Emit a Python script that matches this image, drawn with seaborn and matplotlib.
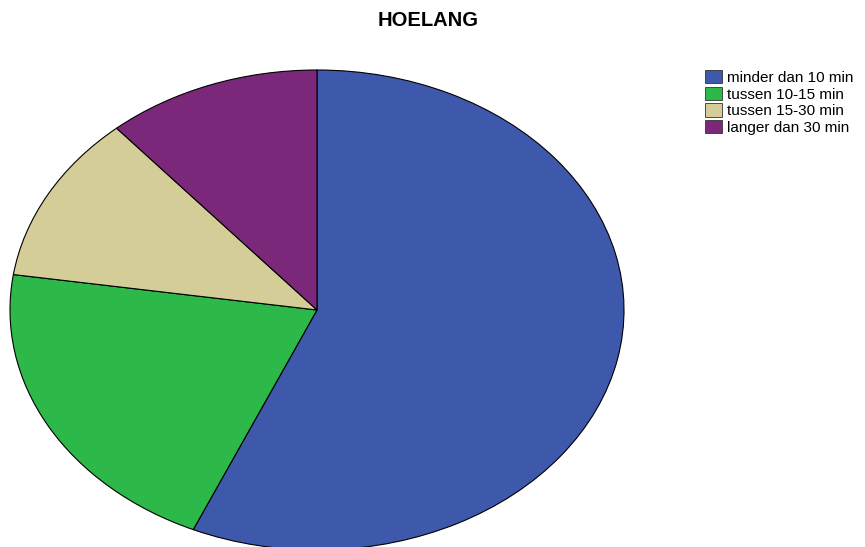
import matplotlib
matplotlib.use("Agg")
import matplotlib.pyplot as plt
import seaborn as sns
from matplotlib.patches import Patch

sns.set_style("white")
plt.rcParams["font.family"] = ["Liberation Sans", "DejaVu Sans"]

# Travel time categories and respondent counts
categories = ["minder dan 10 min", "tussen 10-15 min", "tussen 15-30 min", "langer dan 30 min"]
counts = [30, 11, 6, 6]
colors = ["#3E58AC", "#2DB84A", "#D4CD98", "#7B287B"]

fig = plt.figure(figsize=(8.65, 5.47), dpi=100)
W, H = 865, 547
# Stretched axes make the pie an ellipse
ax = fig.add_axes([10 / W, (H - 550) / H, 614 / W, 480 / H])
wedges, _ = ax.pie(
    counts,
    colors=colors,
    startangle=90,
    counterclock=False,
    radius=1.0,
    wedgeprops=dict(edgecolor="black", linewidth=0.8),
)
ax.set_xlim(-1.0, 1.0)
ax.set_ylim(-1.0, 1.0)
ax.set_aspect("auto")
ax.axis("off")

fig.text(428 / W, 1 - 21 / H, "HOELANG", ha="center", va="center",
         fontsize=14.5, fontweight="bold", color="black")

handles = [Patch(facecolor=c, edgecolor="#333333", linewidth=0.6) for c in colors]
leg = fig.legend(handles, categories, loc="upper left",
                 bbox_to_anchor=(705 / W, 1 - 70 / H), frameon=False,
                 fontsize=11, handlelength=1.1, handleheight=0.95,
                 handletextpad=0.35, labelspacing=0.12, borderaxespad=0, borderpad=0)
for t in leg.get_texts():
    t.set_color("black")

fig.savefig("out.png", dpi=100)
